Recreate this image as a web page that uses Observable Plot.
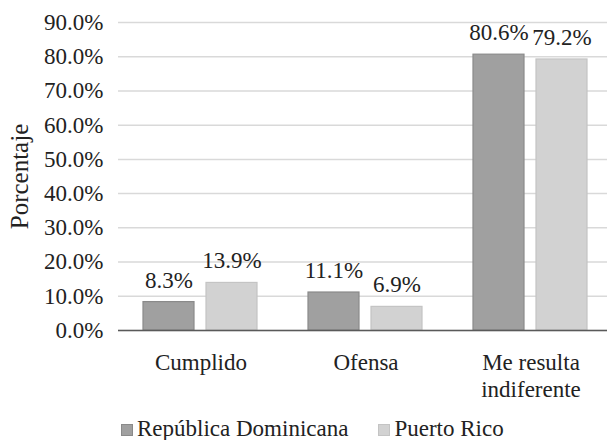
<!DOCTYPE html>
<html><head><meta charset="utf-8">
<script src="https://cdn.jsdelivr.net/npm/d3@7"></script>
<script src="https://cdn.jsdelivr.net/npm/@observablehq/plot@0.6"></script>
<style>
html,body{margin:0;padding:0;background:#fff;overflow:hidden;width:607px;height:440px;position:relative}
#chart{width:614px;overflow:hidden}
#chart svg{display:block;max-width:none}
#legend{position:absolute;left:121px;top:417px;display:flex;align-items:center;font-family:'Liberation Serif','DejaVu Serif',serif;font-size:23px;line-height:1;color:#222;white-space:nowrap}
#legend .item{display:flex;align-items:center;margin-right:30px}
#legend .sw{width:10px;height:10px;margin-right:4px;margin-top:3px}
</style></head><body><div id="chart"></div><div id="legend"></div>
<script>
const categories = ["Cumplido", "Ofensa", "Me resulta indiferente"];
const series = ["República Dominicana", "Puerto Rico"];
const valuesRD = [0.083, 0.111, 0.806];
const valuesPR = [0.139, 0.069, 0.792];
const yTicks = [0, 0.1, 0.2, 0.3, 0.4, 0.5, 0.6, 0.7, 0.8, 0.9];
const fills = ["#a0a0a0", "#d2d2d2"];
const strokes = ["#8a8a8a", "#c4c4c4"];

const data = categories.flatMap((c, i) => [
  {category: c, series: series[0], value: valuesRD[i]},
  {category: c, series: series[1], value: valuesPR[i]}
]);
const strokeOf = Object.fromEntries(series.map((s, i) => [s, strokes[i]]));
const pct = d3.format(".1%");
const labelFmt = d => d === "Me resulta indiferente" ? "Me resulta\nindiferente" : d;
const FONT = "'Liberation Serif', 'DejaVu Serif', serif";

const chart = Plot.plot({
  width: 614,
  height: 414,
  marginLeft: 117,
  marginRight: 0,
  marginTop: 22,
  marginBottom: 84,
  style: {fontFamily: FONT, fontSize: "23px", color: "#222", background: "#fff", maxWidth: "none"},
  fx: {domain: categories, padding: 0},
  x: {domain: series, paddingInner: 0.1875, paddingOuter: 0.39, axis: null},
  y: {domain: [0, 0.9]},
  color: {domain: series, range: fills},
  marks: [
    Plot.gridY(yTicks, {stroke: "#d9d9d9", strokeOpacity: 1, strokeWidth: 1.5}),
    Plot.axisY({ticks: yTicks, tickFormat: pct, tickSize: 0, tickPadding: 15, label: null, fill: "#222", fontFamily: FONT}),
    Plot.axisY({ticks: [], tickSize: 0, label: "Porcentaje", labelAnchor: "center", labelArrow: "none", labelOffset: 108, fill: "#222", fontFamily: FONT, fontSize: 25}),
    Plot.axisFx({anchor: "bottom", label: null, tickSize: 0, tickPadding: 21, tickFormat: labelFmt, lineHeight: 1.16, fill: "#222", fontFamily: FONT}),
    Plot.barY(data, {fx: "category", x: "series", y: "value", fill: "series", stroke: {value: d => strokeOf[d.series], scale: null}, strokeWidth: 1.2}),
    Plot.ruleY([0], {stroke: "#595959", strokeWidth: 1.5}),
    Plot.text(data, {fx: "category", x: "series", y: "value", text: d => pct(d.value), lineAnchor: "bottom", dy: -14.5, fill: "#222", fontFamily: FONT})
  ]
});
document.getElementById("chart").appendChild(chart);

const legend = document.getElementById("legend");
series.forEach((s, i) => {
  const item = document.createElement("div");
  item.className = "item";
  const sw = document.createElement("span");
  sw.className = "sw";
  sw.style.background = fills[i];
  sw.style.border = "1px solid " + strokes[i];
  const t = document.createElement("span");
  t.textContent = s;
  item.appendChild(sw);
  item.appendChild(t);
  legend.appendChild(item);
});
</script></body></html>
